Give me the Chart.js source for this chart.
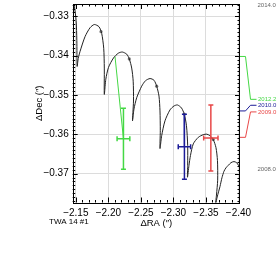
<!DOCTYPE html>
<html lang="en">
<head>
<meta charset="UTF-8">
<title>TWA 14 #1</title>
<script src="https://cdn.jsdelivr.net/npm/chart.js"></script>
<style>
  html, body { margin: 0; padding: 0; background: #fff; }
  #grafico { display: block; }
</style>
</head>
<body>
<canvas id="grafico" width="277" height="269"></canvas>
<script>
// trajetoria prevista (paralaxe + movimento proprio)
const curveRA = [
  -2.14324, -2.14739, -2.15046, -2.15154, -2.15200,
  -2.15369, -2.15645, -2.16413, -2.17181, -2.17842, -2.18564, -2.18978, -2.19286, -2.19378, -2.19378,
  -2.19608, -2.20023, -2.20791, -2.21528, -2.22143, -2.22819, -2.23218, -2.23587, -2.23817, -2.23863, -2.23710,
  -2.23940, -2.24355, -2.25123, -2.25707, -2.26398, -2.27012, -2.27427, -2.27780, -2.27934, -2.27980, -2.27934,
  -2.28195, -2.28702, -2.29470, -2.30084, -2.30622, -2.31237, -2.31667, -2.32005, -2.32189, -2.32189, -2.32158,
  -2.32389, -2.32619, -2.33049, -2.33817, -2.34585, -2.35108, -2.35614, -2.36121, -2.36536, -2.36767, -2.36797, -2.36613, -2.36459,
  -2.36721, -2.37150, -2.37458, -2.37765, -2.38072, -2.38425, -2.38840, -2.39301, -2.39716, -2.39992, -2.40223, -2.40530, -2.40684
];
const curveDec = [
  -0.32559, -0.32728, -0.33106, -0.33610, -0.34272,
  -0.34071, -0.33894, -0.33516, -0.33290, -0.33207, -0.33264, -0.33433, -0.33811, -0.34315, -0.34985,
  -0.34600, -0.34297, -0.34058, -0.33937, -0.33907, -0.33962, -0.34083, -0.34315, -0.34650, -0.35154, -0.35657,
  -0.35355, -0.35070, -0.34776, -0.34637, -0.34582, -0.34625, -0.34776, -0.35028, -0.35406, -0.35909, -0.36363,
  -0.36035, -0.35657, -0.35380, -0.35280, -0.35254, -0.35330, -0.35489, -0.35783, -0.36287, -0.36791, -0.37093,
  -0.36791, -0.36539, -0.36244, -0.36078, -0.36010, -0.35997, -0.36035, -0.36136, -0.36338, -0.36665, -0.37169, -0.37547, -0.37798,
  -0.37597, -0.37332, -0.37106, -0.36942, -0.36854, -0.36791, -0.36723, -0.36695, -0.36723, -0.36791, -0.36874, -0.37118, -0.37547
];

// marcas anuais sobre a trajetoria
const yearRA = [-2.18871, -2.23218, -2.27427, -2.31667, -2.36121];
const yearDec = [-0.33390, -0.34083, -0.34776, -0.35489, -0.36136];

// medidas: 2012.2, 2010.0, 2009.0
const epochs = ['2012.2', '2010.0', '2009.0'];
const measRA = [-2.2232, -2.3169, -2.3575];
const measDec = [-0.36115, -0.36316, -0.36094];
const errRA = [0.0098, 0.0095, 0.0110];
const errDec = [0.00777, 0.00827, 0.00840];
const modelRA = [-2.21022, -2.31667, -2.36121];
const modelDec = [-0.34020, -0.35489, -0.36136];

// marcas no eixo direito e posicao dos rotulos
const epochTickDec = [-0.34020, -0.35406, -0.36078];
const epochLabelDec = [-0.35111, -0.35262, -0.35431];
const rangeLabels = ['2014.0', '2008.0'];
const rangeLabelDec = [-0.32710, -0.36892];

const xTicks = [-2.15, -2.20, -2.25, -2.30, -2.35, -2.40];
const yTicks = [-0.33, -0.34, -0.35, -0.36, -0.37];

const cores = ['#44d844', '#1c1c98', '#e84848'];
const fonte = '"Liberation Sans", Arial, sans-serif';
const menos = v => v.toFixed(2).replace('-', '\u2212');

const moldura = {
  id: 'moldura',
  afterDatasetsDraw(chart) {
    const { ctx, scales: { x, y } } = chart;
    ctx.save();
    ctx.lineWidth = 1.5;
    measRA.forEach((ra, i) => {
      const px = x.getPixelForValue(ra);
      const py = y.getPixelForValue(measDec[i]);
      const x0 = x.getPixelForValue(ra - errRA[i]);
      const x1 = x.getPixelForValue(ra + errRA[i]);
      const y0 = y.getPixelForValue(measDec[i] - errDec[i]);
      const y1 = y.getPixelForValue(measDec[i] + errDec[i]);
      ctx.strokeStyle = cores[i];
      ctx.beginPath();
      ctx.moveTo(px, y0); ctx.lineTo(px, y1);
      ctx.moveTo(x0, py); ctx.lineTo(x1, py);
      ctx.moveTo(px - 2.5, y0); ctx.lineTo(px + 2.5, y0);
      ctx.moveTo(px - 2.5, y1); ctx.lineTo(px + 2.5, y1);
      ctx.moveTo(x0, py - 2.5); ctx.lineTo(x0, py + 2.5);
      ctx.moveTo(x1, py - 2.5); ctx.lineTo(x1, py + 2.5);
      ctx.stroke();
    });
    ctx.restore();
  },
  afterDraw(chart) {
    const { ctx, chartArea: a, scales: { x, y } } = chart;
    ctx.save();
    ctx.strokeStyle = '#000';
    ctx.lineWidth = 1;
    ctx.strokeRect(Math.round(a.left) + 0.5, Math.round(a.top) + 0.5,
      Math.round(a.right - a.left) - 1, Math.round(a.bottom - a.top));

    // ticks para dentro nos quatro lados
    ctx.beginPath();
    for (let k = 0; k <= 26; k++) {
      const v = -2.14 - k * 0.01;
      const p = Math.round(x.getPixelForValue(v)) + 0.5;
      if (p < a.left || p > a.right) continue;
      const len = k % 5 === 1 ? 5 : 2.5;
      ctx.moveTo(p, a.bottom); ctx.lineTo(p, a.bottom - len);
      ctx.moveTo(p, a.top); ctx.lineTo(p, a.top + len);
    }
    for (let k = 0; k <= 52; k++) {
      const v = -0.326 - k * 0.001;
      const p = Math.round(y.getPixelForValue(v)) + 0.5;
      if (p < a.top || p > a.bottom) continue;
      const len = (k - 4) % 10 === 0 ? 5 : 2.5;
      ctx.moveTo(a.left, p); ctx.lineTo(a.left + len, p);
      ctx.moveTo(a.right, p); ctx.lineTo(a.right - len, p);
    }
    ctx.stroke();

    // titulos
    ctx.fillStyle = '#000';
    ctx.font = '9.5px ' + fonte;
    ctx.textAlign = 'center';
    ctx.textBaseline = 'middle';
    ctx.fillText('\u0394RA (\u2033)', (a.left + a.right) / 2, 223);
    ctx.save();
    ctx.translate(39, (a.top + a.bottom) / 2);
    ctx.rotate(-Math.PI / 2);
    ctx.fillText('\u0394Dec (\u2033)', 0, 0);
    ctx.restore();
    ctx.font = '8px ' + fonte;
    ctx.textAlign = 'left';
    ctx.fillText('TWA 14 #1', 49, 222);

    // rotulos das epocas a direita
    ctx.font = '6px ' + fonte;
    epochs.forEach((ep, i) => {
      const ty = y.getPixelForValue(epochTickDec[i]);
      const ly = y.getPixelForValue(epochLabelDec[i]);
      ctx.strokeStyle = cores[i];
      ctx.beginPath();
      ctx.moveTo(a.right, ty);
      ctx.lineTo(a.right + 5.5, ty);
      ctx.lineTo(a.right + 10.5, ly);
      ctx.lineTo(a.right + 16.5, ly);
      ctx.stroke();
      ctx.fillStyle = cores[i];
      ctx.fillText(ep, a.right + 18, ly);
    });
    ctx.fillStyle = '#666';
    rangeLabels.forEach((t, i) => {
      ctx.fillText(t, a.right + 17.5, y.getPixelForValue(rangeLabelDec[i]));
    });
    ctx.restore();
  }
};

const dadosCurva = curveRA.map((v, i) => ({ x: v, y: curveDec[i] }));
const dadosAnos = yearRA.map((v, i) => ({ x: v, y: yearDec[i] }));
const ligacoes = measRA.map((v, i) => ({
  data: [{ x: modelRA[i], y: modelDec[i] }, { x: v, y: measDec[i] }],
  showLine: true,
  borderColor: cores[i],
  borderWidth: 1,
  pointRadius: 0
}));

new Chart(document.getElementById('grafico'), {
  type: 'scatter',
  data: {
    datasets: [
      {
        data: dadosCurva,
        showLine: true,
        borderColor: '#222',
        borderWidth: 1,
        pointRadius: 0,
        tension: 0.25
      },
      {
        data: dadosAnos,
        pointRadius: 1.6,
        pointBackgroundColor: '#777',
        pointBorderWidth: 0
      },
      ...ligacoes
    ]
  },
  options: {
    responsive: false,
    animation: false,
    devicePixelRatio: 1,
    layout: { padding: { left: 0, right: 37, top: 2, bottom: 0 } },
    plugins: { legend: { display: false }, tooltip: { enabled: false } },
    scales: {
      x: {
        type: 'linear',
        reverse: true,
        min: -2.4023,
        max: -2.1452,
        afterBuildTicks: s => { s.ticks = xTicks.map(v => ({ value: v })); },
        afterFit: s => { s.height = 66.5; s.paddingLeft = 0; s.paddingRight = 0; },
        border: { display: false },
        grid: { color: '#dcdcdc', drawTicks: false },
        ticks: {
          padding: 5,
          maxRotation: 0,
          color: '#000',
          font: { family: fonte, size: 10 },
          callback: v => menos(v)
        }
      },
      y: {
        type: 'linear',
        min: -0.37736,
        max: -0.32685,
        afterBuildTicks: s => { s.ticks = yTicks.map(v => ({ value: v })); },
        afterFit: s => { s.width = 72.7; s.paddingTop = 0; s.paddingBottom = 0; },
        border: { display: false },
        grid: { color: '#dcdcdc', drawTicks: false },
        ticks: {
          padding: 4,
          color: '#000',
          font: { family: fonte, size: 10 },
          callback: v => menos(v)
        }
      }
    }
  },
  plugins: [moldura]
});
</script>
</body>
</html>
